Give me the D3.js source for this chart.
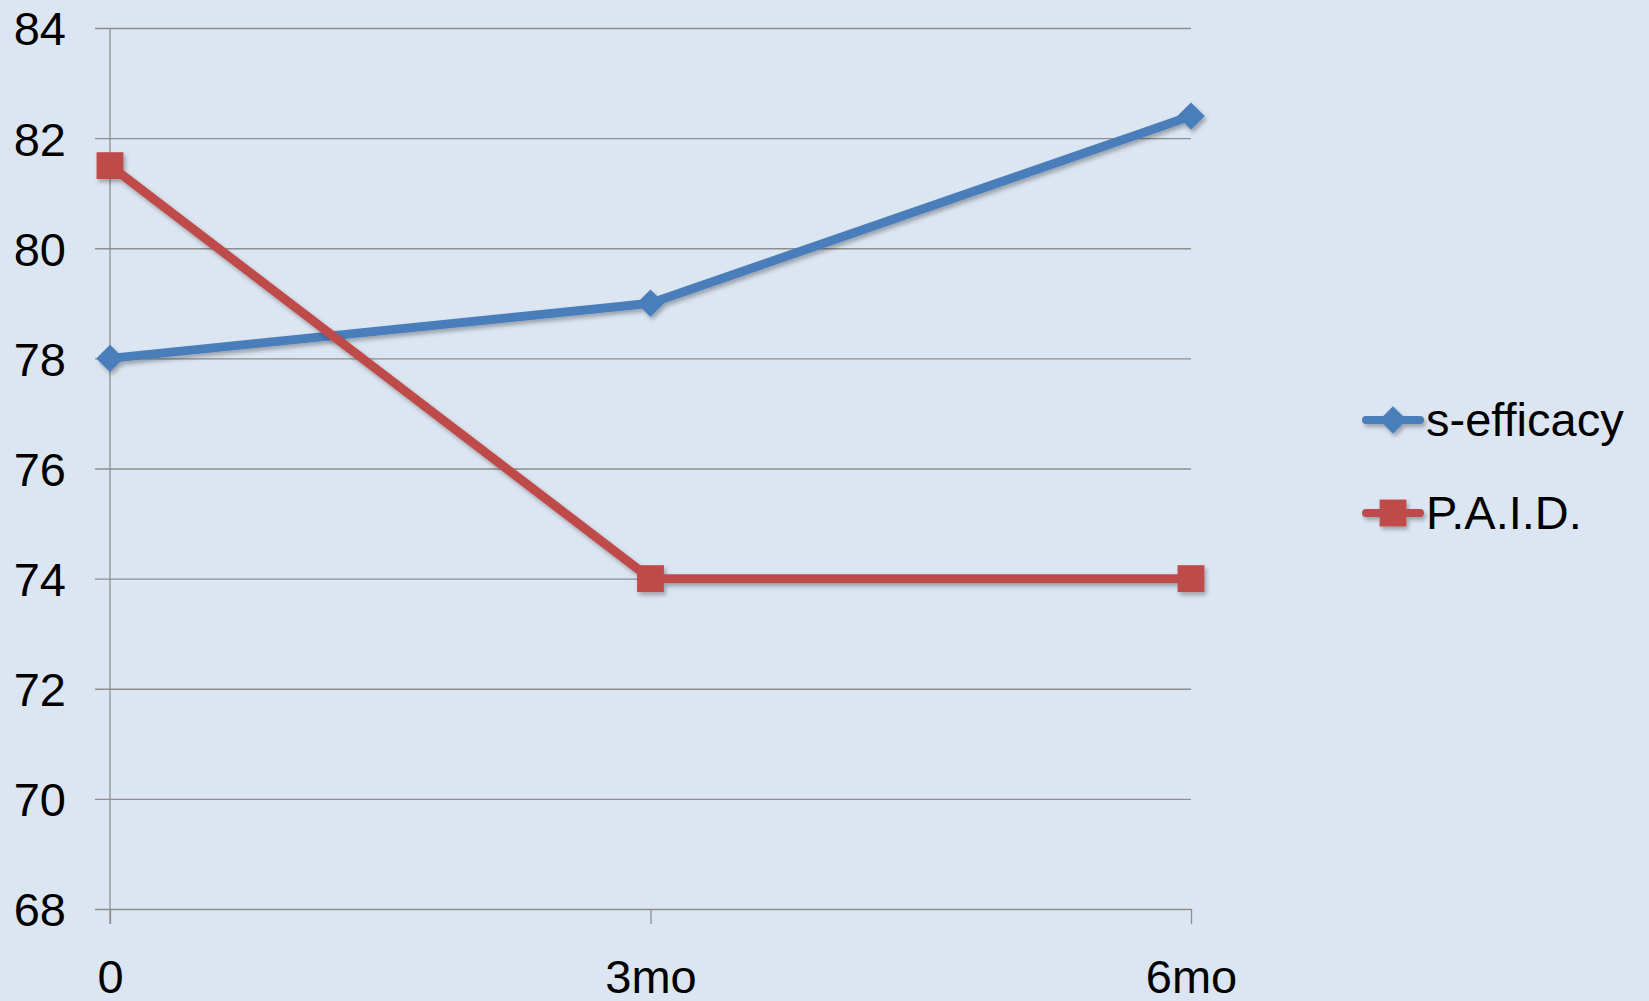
<!DOCTYPE html>
<html>
<head>
<meta charset="utf-8">
<script src="https://cdn.jsdelivr.net/npm/d3@7"></script>
<style>
  html, body { margin: 0; padding: 0; background: #DCE6F2; }
  svg { display: block; }
  text { font-family: "Liberation Sans", Arial, sans-serif; fill: #000; }
</style>
</head>
<body>
<svg id="chart" width="1649" height="1001"></svg>
<script>
// Chart data
const categories = ["0", "3mo", "6mo"];
const selfEfficacy = [78, 79, 82.4];
const paid = [81.5, 74, 74];
const yTicks = [68, 70, 72, 74, 76, 78, 80, 82, 84];
const seriesNames = ["s-efficacy", "P.A.I.D."];

const W = 1649, H = 1001;
const plot = { left: 110, right: 1191, top: 28, bottom: 909 };
const colors = { blue: "#4A7EBB", red: "#BE4B48", grid: "#8E8E8E", bg: "#DCE6F2" };
const fontSize = 47;

const svg = d3.select("#chart");
svg.append("rect").attr("width", W).attr("height", H).attr("fill", colors.bg);

const defs = svg.append("defs");
const shadow = defs.append("filter").attr("id", "shadow")
  .attr("x", "-30%").attr("y", "-30%").attr("width", "160%").attr("height", "160%");
shadow.append("feDropShadow")
  .attr("dx", 2).attr("dy", 3).attr("stdDeviation", 2)
  .attr("flood-color", "#000").attr("flood-opacity", 0.3);

const x = d3.scalePoint().domain(categories).range([plot.left, plot.right]);
const y = d3.scaleLinear().domain([68, 84]).range([plot.bottom, plot.top]);

// Horizontal gridlines with short left ticks
const yAxis = d3.axisLeft(y).tickValues(yTicks)
  .tickSize(-(plot.right - plot.left + 15)).tickFormat(d => d).tickPadding(30);
const gy = svg.append("g").attr("transform", `translate(${plot.left - 15},0)`).call(yAxis);
gy.select(".domain").remove();
gy.selectAll(".tick line").attr("stroke", colors.grid).attr("stroke-width", 1.3);
gy.selectAll(".tick text")
  .attr("x", 66 - (plot.left - 15))
  .attr("text-anchor", "end")
  .attr("font-size", fontSize)
  .attr("font-family", "Liberation Sans, Arial, sans-serif")
  .attr("dy", "0.36em");

// Vertical axis line and category ticks
const xAxis = d3.axisBottom(x).tickSize(15).tickPadding(0).tickFormat(d => d);
const gx = svg.append("g").attr("transform", `translate(0,${plot.bottom})`).call(xAxis);
gx.select(".domain").remove();
gx.selectAll(".tick line").attr("stroke", colors.grid).attr("stroke-width", 1.3);
gx.selectAll(".tick text")
  .attr("y", 84).attr("dy", 0)
  .attr("font-size", fontSize)
  .attr("font-family", "Liberation Sans, Arial, sans-serif");

svg.append("line")
  .attr("x1", plot.left).attr("x2", plot.left)
  .attr("y1", plot.top).attr("y2", plot.bottom + 15)
  .attr("stroke", colors.grid).attr("stroke-width", 1.3);

// Series
const line = d3.line().x((d, i) => x(categories[i])).y(d => y(d));
const diamond = d3.symbol().type(d3.symbolDiamond2).size(480);
const square = d3.symbol().type(d3.symbolSquare).size(720);

function drawSeries(values, color, sym) {
  const g = svg.append("g").attr("filter", "url(#shadow)");
  g.append("path").datum(values).attr("d", line)
    .attr("fill", "none").attr("stroke", color).attr("stroke-width", 9)
    .attr("stroke-linejoin", "round");
  g.selectAll("path.m").data(values).enter().append("path").attr("class", "m")
    .attr("transform", (d, i) => `translate(${x(categories[i])},${y(d)})`)
    .attr("d", sym).attr("fill", color);
}
drawSeries(selfEfficacy, colors.blue, diamond);
drawSeries(paid, colors.red, square);

// Legend
const legend = [
  { name: seriesNames[0], color: colors.blue, sym: diamond, cy: 420 },
  { name: seriesNames[1], color: colors.red, sym: square, cy: 513 }
];
const lg = svg.append("g");
legend.forEach(l => {
  const g = lg.append("g").attr("filter", "url(#shadow)");
  g.append("line").attr("x1", 1366).attr("x2", 1420).attr("y1", l.cy).attr("y2", l.cy)
    .attr("stroke", l.color).attr("stroke-width", 8).attr("stroke-linecap", "round");
  g.append("path").attr("transform", `translate(1393,${l.cy})`).attr("d", l.sym).attr("fill", l.color);
  lg.append("text").attr("x", 1426).attr("y", l.cy + 16)
    .attr("font-size", fontSize).text(l.name);
});
</script>
</body>
</html>
